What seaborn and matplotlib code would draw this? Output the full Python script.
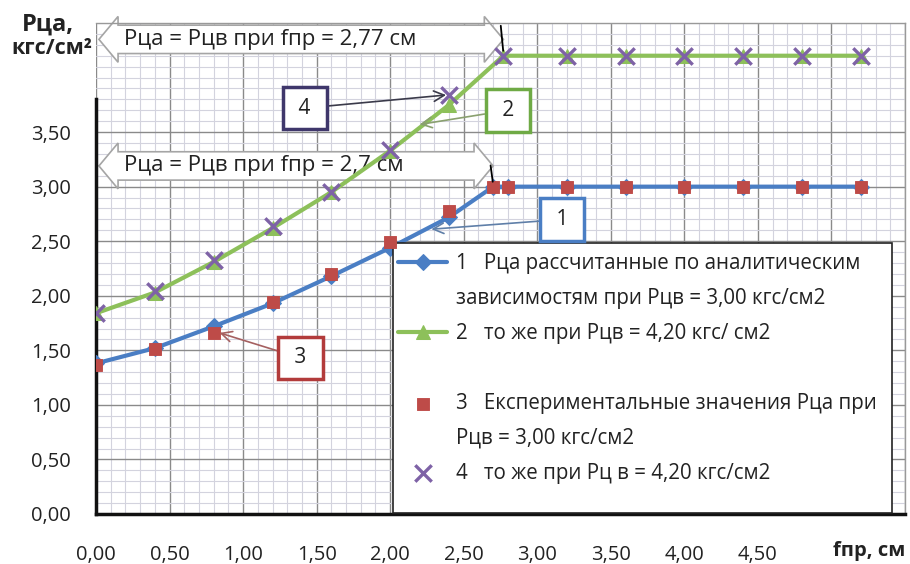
import matplotlib
matplotlib.use("Agg")
import matplotlib.pyplot as plt
from matplotlib.lines import Line2D
from matplotlib.patches import Polygon, Rectangle
from matplotlib.ticker import MultipleLocator
import seaborn as sns

# --- DATA ---
# 1: calculated, Pцв = 3.00
f_calc_1 = [0.0, 0.4, 0.8, 1.2, 1.6, 2.0, 2.4, 2.7, 2.8, 3.2, 3.6, 4.0, 4.4, 4.8, 5.2]
p_calc_1 = [1.38, 1.52, 1.72, 1.93, 2.18, 2.44, 2.72, 3.00, 3.00, 3.00, 3.00, 3.00, 3.00, 3.00, 3.00]
# 2: calculated, Pцв = 4.20
f_calc_2 = [0.0, 0.4, 0.8, 1.2, 1.6, 2.0, 2.4, 2.77, 3.2, 3.6, 4.0, 4.4, 4.8, 5.2]
p_calc_2 = [1.84, 2.03, 2.31, 2.62, 2.95, 3.33, 3.75, 4.20, 4.20, 4.20, 4.20, 4.20, 4.20, 4.20]
# 3: experiment, Pцв = 3.00
f_exp_3 = [0.0, 0.4, 0.8, 1.2, 1.6, 2.0, 2.4, 2.7, 2.8, 3.2, 3.6, 4.0, 4.4, 4.8, 5.2]
p_exp_3 = [1.37, 1.51, 1.66, 1.94, 2.20, 2.49, 2.78, 3.00, 3.00, 3.00, 3.00, 3.00, 3.00, 3.00, 3.00]
# 4: experiment, Pцв = 4.20
f_exp_4 = [0.0, 0.4, 0.8, 1.2, 1.6, 2.0, 2.4, 2.77, 3.2, 3.6, 4.0, 4.4, 4.8, 5.2]
p_exp_4 = [1.84, 2.04, 2.33, 2.64, 2.95, 3.34, 3.84, 4.20, 4.20, 4.20, 4.20, 4.20, 4.20, 4.20]

# points where Рца = Рцв
f_equal = [2.7, 2.77]
p_equal = [3.00, 4.20]
equal_labels = ["Рца = Рцв при fпр = 2,7 см", "Рца = Рцв при fпр = 2,77 см"]

x_ticks = [0.0, 0.5, 1.0, 1.5, 2.0, 2.5, 3.0, 3.5, 4.0, 4.5, 5.0, 5.5]
x_tick_labels = ["0,00", "0,50", "1,00", "1,50", "2,00", "2,50", "3,00", "3,50", "4,00", "4,50", "", ""]
y_ticks = [0.0, 0.5, 1.0, 1.5, 2.0, 2.5, 3.0, 3.5]
y_tick_labels = ["0,00", "0,50", "1,00", "1,50", "2,00", "2,50", "3,00", "3,50"]

legend_labels = [
    "1   Рца рассчитанные по аналитическим",
    "зависимостям при Рцв = 3,00 кгс/см2",
    "2   то же при Рцв = 4,20 кгс/ см2",
    " ",
    "3   Експериментальные значения Рца при",
    "Рцв = 3,00 кгс/см2",
    "4   то же при Рц в = 4,20 кгс/см2",
]

BLUE = "#4A7EC4"
GREEN = "#8DC05A"
RED = "#BE4B48"
PURPLE = "#7E62A6"

sns.set_style("white")
plt.rcParams["font.family"] = ["Open Sans", "DejaVu Sans"]

fig = plt.figure(figsize=(9.1, 5.64), dpi=100)
ax = fig.add_axes([96 / 910, 50 / 564, 809 / 910, 491 / 564])

# --- SERIES ---
sns.lineplot(x=f_calc_1, y=p_calc_1, ax=ax, color=BLUE, lw=3, marker="D", markersize=8,
             markeredgecolor=BLUE, label="s1", zorder=3)
sns.lineplot(x=f_calc_2, y=p_calc_2, ax=ax, color=GREEN, lw=3, marker="^", markersize=10,
             markeredgecolor=GREEN, label="s2", zorder=3)
sns.scatterplot(x=f_exp_3, y=p_exp_3, ax=ax, color=RED, marker="s", s=64, edgecolor=RED,
                label="s3", zorder=5)
sns.scatterplot(x=f_exp_4, y=p_exp_4, ax=ax, color=PURPLE, marker="x", s=140, linewidth=2.4,
                label="s4", zorder=5)

# --- AXES ---
ax.set_xlim(0, 5.5)
ax.set_ylim(0, 4.5)
ax.set_xticks(x_ticks)
ax.set_xticklabels(x_tick_labels)
ax.set_yticks(y_ticks)
ax.set_yticklabels(y_tick_labels)
ax.xaxis.set_minor_locator(MultipleLocator(0.1))
ax.yaxis.set_minor_locator(MultipleLocator(0.1))
ax.grid(which="major", color="#8A8A8A", lw=1.0, zorder=0)
ax.grid(which="minor", color="#D3D3DE", lw=0.8, zorder=0)
ax.set_axisbelow(True)
ax.tick_params(which="major", direction="out", length=7, width=2, color="black",
               labelsize=14.5, colors="#222222")
ax.tick_params(axis="x", pad=15)
ax.tick_params(axis="y", pad=11)
ax.tick_params(which="minor", length=0)
ax.set_xlabel("")
ax.set_ylabel("")
for side in ["left", "bottom"]:
    ax.spines[side].set_color("#111111")
    ax.spines[side].set_linewidth(2.5)
for side in ["top", "right"]:
    ax.spines[side].set_color("#999999")
    ax.spines[side].set_linewidth(1)
ax.spines["left"].set_bounds(0, 3.8)

fig.text(48 / 910, 1 - 25 / 564, "Рца,", fontsize=17, fontweight="bold", ha="center", va="center",
         color="#222222")
fig.text(92 / 910, 1 - 48 / 564, "кгс/см²", fontsize=15.5, fontweight="bold", ha="right", va="center",
         color="#222222")
fig.text(905 / 910, 1 - 551 / 564, "fпр, см", fontsize=14.5, fontweight="bold", ha="right", va="center",
         color="#222222")


# --- DOUBLE BLOCK ARROWS: Рца = Рцв ---
def block_arrow(x0, x1, yc, shaft, head, hl):
    verts = [(x0, yc), (x0 + hl, yc + head), (x0 + hl, yc + shaft), (x1 - hl, yc + shaft),
             (x1 - hl, yc + head), (x1, yc), (x1 - hl, yc - head), (x1 - hl, yc - shaft),
             (x0 + hl, yc - shaft), (x0 + hl, yc - head)]
    ax.add_patch(Polygon(verts, closed=True, fc="white", ec="#A5A5A5", lw=1.2, zorder=2,
                         clip_on=False))


arrow_centres = [3.19, 4.35]
for f, p, txt, yc in zip(f_equal, p_equal, equal_labels, arrow_centres):
    block_arrow(0.02, f, yc, 0.13, 0.21, 0.13)
    ax.text(0.19, yc, txt, fontsize=16, ha="left", va="center", color="#222222", zorder=2.5)
    ax.annotate("", xy=(f, p + 0.02), xytext=(f - 0.02, p + 0.22 if p < 4 else 4.5),
                arrowprops=dict(arrowstyle="-", color="black", lw=1.3), zorder=6,
                annotation_clip=False)

# --- NUMBERED CALLOUTS ---
callouts = [
    ("1", (2.28, 2.61), (3.17, 2.70), BLUE, "#5F7FA8"),
    ("2", (2.20, 3.57), (2.80, 3.70), "#6FAA45", "#8AA070"),
    ("3", (0.84, 1.66), (1.39, 1.43), "#B23B3B", "#A56060"),
    ("4", (2.38, 3.84), (1.42, 3.72), "#3F376B", "#3A3A4A"),
]
for num, tip, pos, edge, line in callouts:
    ax.annotate(f" {num} ", xy=tip, xytext=pos, fontsize=15, ha="center", va="center",
                color="#222222", zorder=6,
                bbox=dict(boxstyle="square,pad=0.52", fc="white", ec=edge, lw=2.5),
                arrowprops=dict(arrowstyle="->,head_length=0.5,head_width=0.25", color=line,
                                lw=1.2, shrinkA=0, shrinkB=0))

# --- LEGEND ---
ax.add_patch(Rectangle((0.367, 0.002), 0.617, 0.55, transform=ax.transAxes, fc="white",
                       ec="#222222", lw=1.2, zorder=4.5))
handles, _ = ax.get_legend_handles_labels()
blank = Line2D([], [], linestyle="none")
leg_handles = [handles[0], blank, handles[1], blank, handles[2], blank, handles[3]]
leg = ax.legend(leg_handles, legend_labels, loc="upper left",
                bbox_to_anchor=(398 / 910, 1 - 253 / 564), bbox_transform=fig.transFigure,
                frameon=False, fontsize=14.8, borderpad=0, handlelength=2.4, handletextpad=0.4,
                labelspacing=0.68, borderaxespad=0)
leg.set_zorder(6)
for t in leg.get_texts():
    t.set_color("#222222")

fig.savefig("out.png", dpi=100)
